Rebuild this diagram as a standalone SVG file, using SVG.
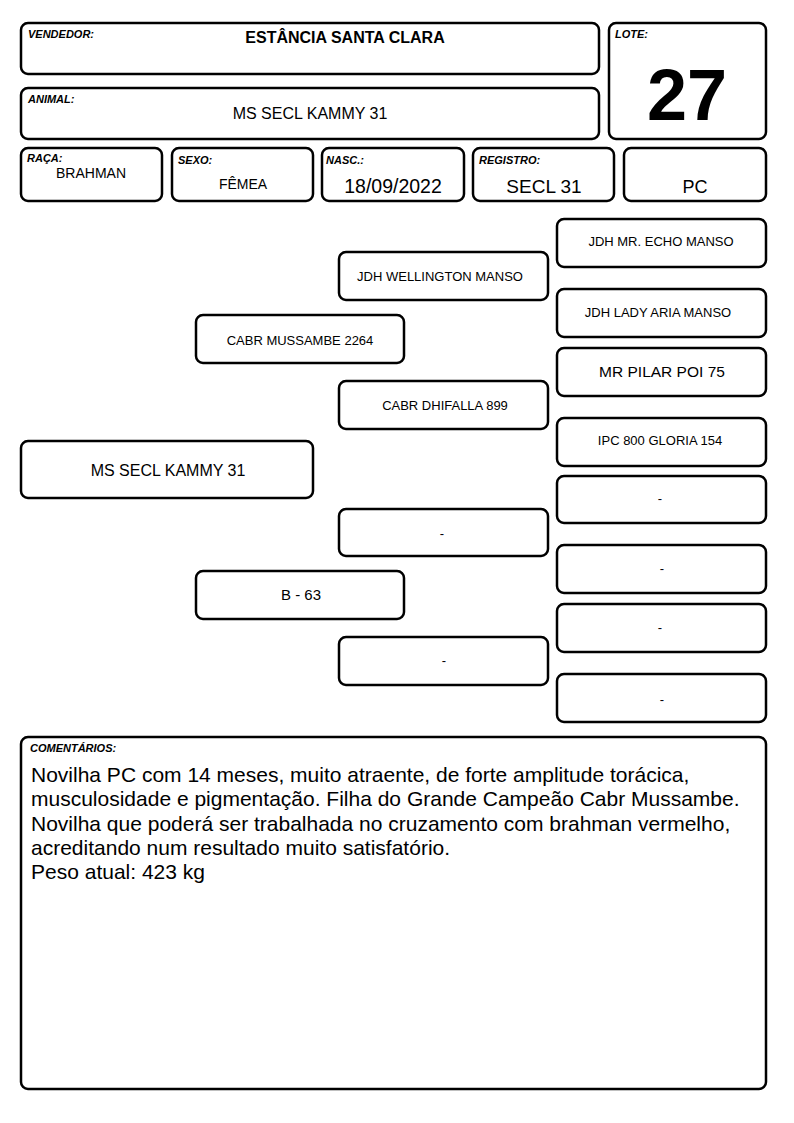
<svg xmlns="http://www.w3.org/2000/svg" width="794" height="1123" viewBox="0 0 794 1123">
<style>
.b{fill:#fff;stroke:#000;stroke-width:2.5}
text{font-family:"Liberation Sans",Arial,sans-serif;fill:#000}
.l{font-size:11px;font-weight:bold;font-style:italic}
.c{text-anchor:middle}
.p{font-size:13px;text-anchor:middle}
.m{font-size:21px}
</style>
<rect width="794" height="1123" fill="#fff"/>
<g id="vendedor"><rect class="b" x="21" y="23" width="578" height="51" rx="7"/><text class="l" x="28" y="38">VENDEDOR:</text><text class="c" x="345" y="43" font-size="16" font-weight="bold">ESTÂNCIA SANTA CLARA</text></g>
<g id="lote"><rect class="b" x="609" y="23" width="157" height="116" rx="7"/><text class="l" x="615" y="38">LOTE:</text><text class="c" x="687" y="120" font-size="72" font-weight="bold">27</text></g>
<g id="animal"><rect class="b" x="21" y="88" width="578" height="51" rx="7"/><text class="l" x="28" y="103">ANIMAL:</text><text class="c" x="310" y="119" font-size="16">MS SECL KAMMY 31</text></g>
<g id="raca"><rect class="b" x="21" y="148" width="141" height="53" rx="7"/><text class="l" x="27" y="162">RAÇA:</text><text class="c" x="91" y="178" font-size="14">BRAHMAN</text></g>
<g id="sexo"><rect class="b" x="172" y="148" width="141" height="53" rx="7"/><text class="l" x="178" y="164">SEXO:</text><text class="c" x="243" y="189" font-size="14">FÊMEA</text></g>
<g id="nasc"><rect class="b" x="322" y="148" width="142" height="53" rx="7"/><text class="l" x="326" y="164">NASC.:</text><text class="c" x="393" y="193" font-size="19.5">18/09/2022</text></g>
<g id="registro"><rect class="b" x="473" y="148" width="141" height="53" rx="7"/><text class="l" x="479" y="164">REGISTRO:</text><text class="c" x="544" y="193" font-size="19">SECL 31</text></g>
<g id="pc"><rect class="b" x="624" y="148" width="142" height="53" rx="7"/><text class="c" x="695" y="193" font-size="18">PC</text></g>
<g id="connectors"></g>
<g id="ggp1"><rect class="b" x="557" y="219" width="209" height="48" rx="7"/><text class="p" x="661" y="246">JDH MR. ECHO MANSO</text></g>
<g id="gp1"><rect class="b" x="339" y="252" width="209" height="48" rx="7"/><text class="p" x="440" y="281">JDH WELLINGTON MANSO</text></g>
<g id="ggp2"><rect class="b" x="557" y="289" width="209" height="48" rx="7"/><text class="p" x="658" y="317">JDH LADY ARIA MANSO</text></g>
<g id="sire"><rect class="b" x="196" y="315" width="208" height="48" rx="7"/><text class="p" x="300" y="345">CABR MUSSAMBE 2264</text></g>
<g id="ggp3"><rect class="b" x="557" y="348" width="209" height="48" rx="7"/><text class="c" x="662" y="377" font-size="15.5">MR PILAR POI 75</text></g>
<g id="gp2"><rect class="b" x="339" y="381" width="209" height="48" rx="7"/><text class="p" x="445" y="410">CABR DHIFALLA 899</text></g>
<g id="ggp4"><rect class="b" x="557" y="418" width="209" height="48" rx="7"/><text class="p" x="660" y="445">IPC 800 GLORIA 154</text></g>
<g id="self"><rect class="b" x="21" y="441" width="292" height="57" rx="7"/><text class="c" x="168" y="476" font-size="16">MS SECL KAMMY 31</text></g>
<g id="ggp5"><rect class="b" x="557" y="476" width="209" height="47" rx="7"/><text class="p" x="660" y="503">-</text></g>
<g id="gp3"><rect class="b" x="339" y="509" width="209" height="47" rx="7"/><text class="p" x="442" y="538">-</text></g>
<g id="ggp6"><rect class="b" x="557" y="545" width="209" height="48" rx="7"/><text class="p" x="662" y="573">-</text></g>
<g id="dam"><rect class="b" x="196" y="571" width="208" height="48" rx="7"/><text class="c" x="301" y="600" font-size="15">B - 63</text></g>
<g id="ggp7"><rect class="b" x="557" y="604" width="209" height="48" rx="7"/><text class="p" x="660" y="632">-</text></g>
<g id="gp4"><rect class="b" x="339" y="637" width="209" height="48" rx="7"/><text class="p" x="444" y="665">-</text></g>
<g id="ggp8"><rect class="b" x="557" y="674" width="209" height="48" rx="7"/><text class="p" x="662" y="704">-</text></g>
<g id="comentarios"><rect class="b" x="21" y="737" width="745" height="352" rx="7"/><text class="l" x="30" y="752">COMENTÁRIOS:</text>
<text class="m" x="31" y="782">Novilha PC com 14 meses, muito atraente, de forte amplitude torácica,</text>
<text class="m" x="31" y="806">musculosidade e pigmentação. Filha do Grande Campeão Cabr Mussambe.</text>
<text class="m" x="31" y="831">Novilha que poderá ser trabalhada no cruzamento com brahman vermelho,</text>
<text class="m" x="31" y="855">acreditando num resultado muito satisfatório.</text>
<text class="m" x="31" y="879">Peso atual: 423 kg</text></g>
</svg>
